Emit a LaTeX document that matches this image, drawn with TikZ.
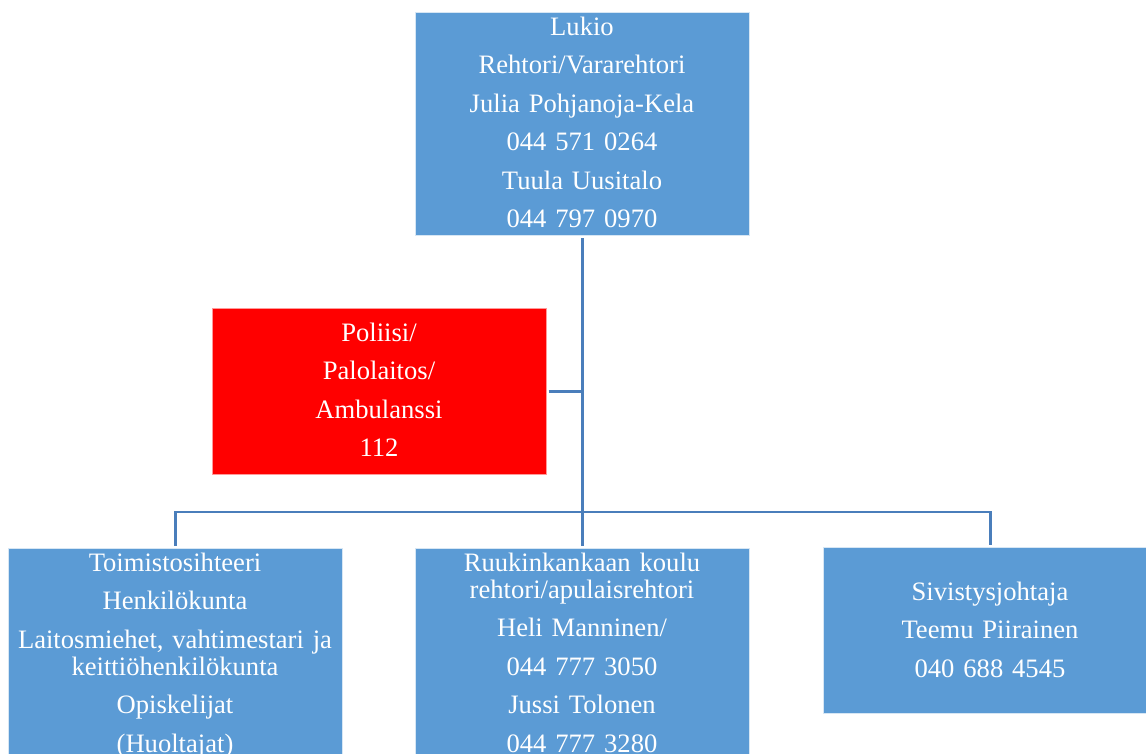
\documentclass[tikz,border=0pt]{standalone}
\usepackage{fontspec}
\setmainfont{Liberation Serif}
\definecolor{boxblue}{HTML}{5B9BD5}
\definecolor{linkblue}{HTML}{4A7EBB}
\definecolor{boxred}{HTML}{FF0000}
\begin{document}
\begin{tikzpicture}[x=1pt,y=-1pt,
  box/.style={rectangle, fill=boxblue, draw=white!75!boxblue, line width=0.6pt,
    minimum width=334pt, inner sep=0pt, anchor=north west},
  redbox/.style={box, fill=boxred, draw=white!60!boxred},
  txt/.style={anchor=base, inner sep=0pt, text width=330pt, align=center,
    text=white, font=\fontsize{26.6}{27}\selectfont},
  link/.style={draw=linkblue, line width=2.6pt}]
\useasboundingbox (0,0) rectangle (1146,753);
\clip (0,0) rectangle (1146,753);
% boxes
\node[box, minimum height=223pt] (top) at (415,12) {};
\node[redbox, minimum height=166pt] (red) at (212,308) {};
\node[box, minimum height=250pt] (left) at (8,548) {};
\node[box, minimum height=250pt] (mid) at (415,548) {};
\node[box, minimum height=166pt] (right) at (823,547) {};
% connectors
\coordinate (hub) at (582,512);
\draw[link, shorten <=2.5pt, shorten >=2.5pt] (top.south) -- (mid.north);
\draw[link, shorten <=2pt] (red.east) -- (red.east -| top.south);
\draw[link, shorten <=2.5pt, shorten >=2.5pt] (left.north) |- (hub) -| (right.north);
% texts
\node[txt] (toptext) at (582,35.5) {Lukio\\[11.4pt] Rehtori/Vararehtori\\[11.4pt] Julia Pohjanoja-Kela\\[11.4pt] 044 571 0264\\[11.4pt] Tuula Uusitalo\\[11.4pt] 044 797 0970};
\node[txt] (redtext) at (379,341.5) {Poliisi/\\[11.4pt] Palolaitos/\\[11.4pt] Ambulanssi\\[11.4pt] 112};
\node[txt] (lefttext) at (175,571.5) {Toimistosihteeri\\[11.4pt] Henkilökunta\\[11.4pt] Laitosmiehet, vahtimestari ja\\ keittiöhenkilökunta\\[11.4pt] Opiskelijat\\[11.4pt] (Huoltajat)};
\node[txt] (midtext) at (582,571.5) {Ruukinkankaan koulu\\ rehtori/apulaisrehtori\\[11.4pt] Heli Manninen/\\[11.4pt] 044 777 3050\\[11.4pt] Jussi Tolonen\\[11.4pt] 044 777 3280};
\node[txt] (righttext) at (990,600.5) {Sivistysjohtaja\\[11.4pt] Teemu Piirainen\\[11.4pt] 040 688 4545};
\end{tikzpicture}
\end{document}
